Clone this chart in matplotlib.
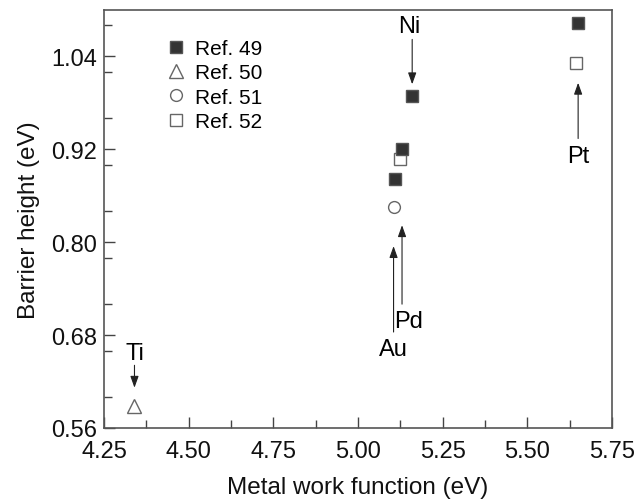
import matplotlib

matplotlib.use("Agg")
import matplotlib.pyplot as plt  # noqa: E402
from matplotlib.ticker import MultipleLocator  # noqa: E402

plt.rcParams["font.family"] = ["Liberation Sans", "DejaVu Sans"]

# values (work function eV, barrier height eV)
ref49_x = [5.11, 5.13, 5.16, 5.65]
ref49_y = [0.882, 0.921, 0.989, 1.083]
ref50_x = [4.34]
ref50_y = [0.588]
ref51_x = [5.105]
ref51_y = [0.846]
ref52_x = [5.125, 5.645]
ref52_y = [0.908, 1.031]

xticks = [4.25, 4.50, 4.75, 5.00, 5.25, 5.50, 5.75]
yticks = [0.56, 0.68, 0.80, 0.92, 1.04]

# metal labels: name, text pos, arrow tail, arrow tip
labels = [
    ("Ni", (5.15, 1.079), (5.16, 1.062), (5.16, 1.004)),
    ("Pt", (5.65, 0.912), (5.65, 0.934), (5.65, 1.006)),
    ("Pd", (5.15, 0.698), (5.13, 0.720), (5.13, 0.822)),
    ("Au", (5.105, 0.662), (5.105, 0.684), (5.105, 0.795)),
    ("Ti", (4.34, 0.657), (4.34, 0.641), (4.34, 0.612)),
]

fig = plt.figure(figsize=(6.4, 5.02), dpi=100)
ax = fig.add_axes([104 / 640, 1 - 429 / 502, 508 / 640, 418 / 502])

ax.plot(ref49_x, ref49_y, "s", ms=8.5, mfc="#333333", mec="#555555", mew=1.0,
        label="Ref. 49", zorder=3)
ax.plot(ref50_x, ref50_y, "^", ms=10, mfc="white", mec="#666666", mew=1.0,
        label="Ref. 50")
ax.plot(ref51_x, ref51_y, "o", ms=8.5, mfc="white", mec="#666666", mew=1.0,
        label="Ref. 51")
ax.plot(ref52_x, ref52_y, "s", ms=8.5, mfc="white", mec="#666666", mew=1.0,
        label="Ref. 52", zorder=2)

for name, tpos, tail, tip in labels:
    ax.text(*tpos, name, ha="center", va="center", fontsize=17)
    ax.annotate("", xy=tip, xytext=tail,
                arrowprops=dict(arrowstyle="-|>,head_length=0.7,head_width=0.25",
                                color="#222222", lw=0.8, shrinkA=0, shrinkB=0))

ax.set_xlim(4.25, 5.75)
ax.set_ylim(0.56, 1.10)
ax.set_xticks(xticks)
ax.set_yticks(yticks)
ax.xaxis.set_minor_locator(MultipleLocator(0.125))
ax.yaxis.set_minor_locator(MultipleLocator(0.06))
ax.set_xticklabels([f"{v:.2f}" for v in xticks])
ax.set_yticklabels([f"{v:.2f}" for v in yticks])
ax.tick_params(which="both", direction="in", top=False, right=False,
               colors="#444444", labelcolor="#111111", labelsize=17, width=1.0)
ax.tick_params(which="major", length=8)
ax.tick_params(axis="x", which="major", pad=9)
ax.tick_params(axis="y", which="major", pad=5)
ax.tick_params(which="minor", length=6)
for sp in ax.spines.values():
    sp.set_color("#555555")
    sp.set_linewidth(1.2)

ax.set_xlabel("Metal work function (eV)", fontsize=17.5, labelpad=10, color="#111111")
ax.set_ylabel("Barrier height (eV)", fontsize=17.5, labelpad=8, color="#111111")

ax.legend(loc="upper left", bbox_to_anchor=(0.1, 0.955), frameon=False,
          fontsize=15, handletextpad=0.45, labelspacing=0.25, borderpad=0,
          handlelength=1.0)

fig.savefig("out.png", dpi=100)
